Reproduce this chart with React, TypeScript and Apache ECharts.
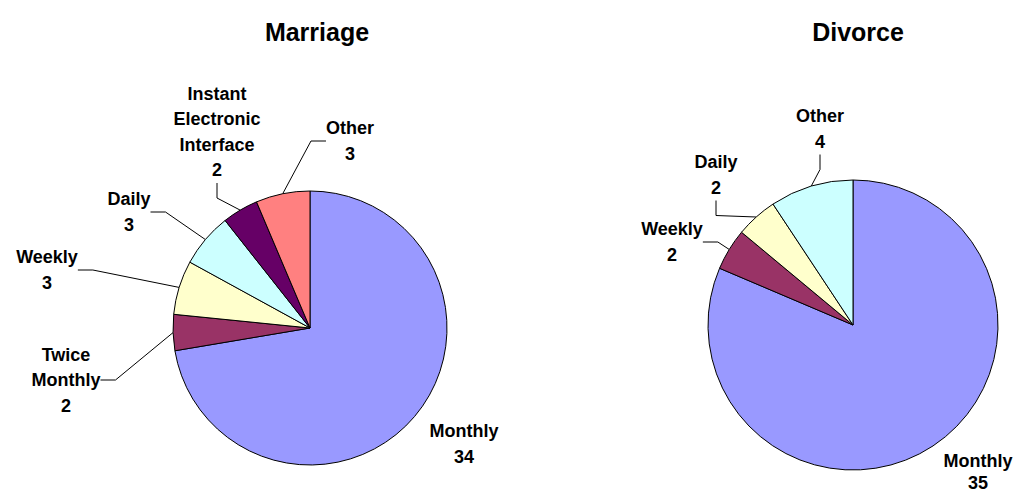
import React, { useEffect, useRef } from "react";
import * as echarts from "echarts";

const marriageCategories = ["Monthly", "Twice Monthly", "Weekly", "Daily", "Instant Electronic Interface", "Other"];
const marriageValues = [34, 2, 3, 3, 2, 3];
const marriageColors = ["#9999FF", "#993366", "#FFFFCC", "#CCFFFF", "#660066", "#FF8080"];
const marriageLabelText = ["Monthly", "Twice\nMonthly", "Weekly", "Daily", "Instant\nElectronic\nInterface", "Other"];

const divorceCategories = ["Monthly", "Weekly", "Daily", "Other"];
const divorceValues = [35, 2, 2, 4];
const divorceColors = ["#9999FF", "#993366", "#FFFFCC", "#CCFFFF"];

const marriageLabelPos: [number, number][] = [
  [464, 444], [66, 380], [47, 270], [129, 212], [217, 132], [350, 141],
];
const divorceLabelPos: [number, number][] = [
  [978, 472], [672, 242], [716, 175], [820, 129],
];

const FONT = "Arial, 'Liberation Sans', sans-serif";

export default function App() {
  const ref = useRef<HTMLDivElement>(null);
  useEffect(() => {
    const chart = echarts.init(ref.current!, undefined, { renderer: "svg" });
    const labelCommon = {
      show: true,
      position: "outside" as const,
      color: "#000",
      fontFamily: FONT,
      fontWeight: "bold" as const,
      fontSize: 18,
      lineHeight: 25.5,
      align: "center" as const,
    };
    const titleStyle = { fontFamily: FONT, fontWeight: "bold", fontSize: 25, color: "#000" };
    const lineStyle = { color: "#000", width: 1 };
    chart.setOption({
      animation: false,
      backgroundColor: "#fff",
      title: [
        { text: "Marriage", left: 312, top: 14, textAlign: "center", textStyle: titleStyle },
        { text: "Divorce", left: 853, top: 14, textAlign: "center", textStyle: titleStyle },
      ],
      series: [
        {
          type: "pie",
          left: 0,
          top: 0,
          width: 2000,
          height: 2000,
          center: [310, 328],
          radius: 137,
          startAngle: 90,
          clockwise: true,
          data: marriageCategories.map((name, i) => ({
            name,
            value: marriageValues[i],
            itemStyle: { color: marriageColors[i] },
            label: { formatter: marriageLabelText[i] + "\n{c}" },
            labelLine: { show: i !== 0 },
          })),
          itemStyle: { borderColor: "#000", borderWidth: 1 },
          label: labelCommon,
          labelLine: { show: true, length: 15, length2: 15, lineStyle },
          labelLayout: (p: any) => ({
            x: marriageLabelPos[p.dataIndex][0],
            y: marriageLabelPos[p.dataIndex][1],
            align: "center",
            verticalAlign: "middle",
          }),
          emphasis: { disabled: true },
        },
        {
          type: "pie",
          left: 0,
          top: 0,
          width: 2000,
          height: 2000,
          center: [853, 325],
          radius: 145,
          startAngle: 90,
          clockwise: true,
          data: divorceCategories.map((name, i) => ({
            name,
            value: divorceValues[i],
            itemStyle: { color: divorceColors[i] },
            labelLine: { show: i !== 0 },
            label: i === 0 ? { lineHeight: 22 } : {},
          })),
          itemStyle: { borderColor: "#000", borderWidth: 1 },
          label: { ...labelCommon, formatter: "{b}\n{c}" },
          labelLine: { show: true, length: 15, length2: 15, lineStyle },
          labelLayout: (p: any) => ({
            x: divorceLabelPos[p.dataIndex][0],
            y: divorceLabelPos[p.dataIndex][1],
            align: "center",
            verticalAlign: "middle",
          }),
          emphasis: { disabled: true },
        },
      ],
    });
    return () => chart.dispose();
  }, []);
  return <div ref={ref} style={{ position: "fixed", left: 0, top: 0, width: 1016, height: 495 }} />;
}
